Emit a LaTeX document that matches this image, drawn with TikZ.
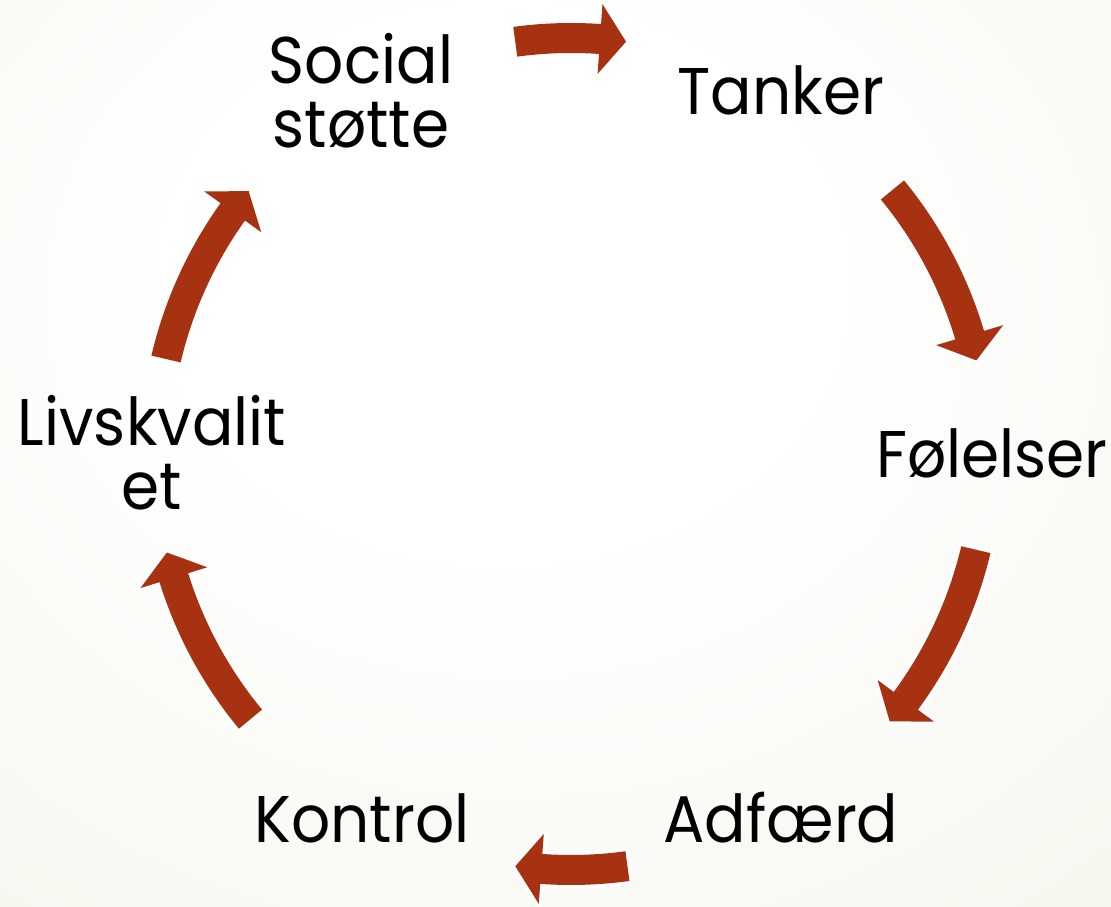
\documentclass[tikz,border=0pt]{standalone}
\usepackage{fontspec}
\setmainfont{Poppins}[FakeStretch=0.93]
\definecolor{arrowred}{RGB}{166,50,18}
\definecolor{bgouter}{RGB}{231,238,215}
\definecolor{bgmid}{RGB}{245,247,238}
\pgfdeclareradialshading{bgshade}{\pgfpoint{-3bp}{12bp}}{color(0bp)=(white); color(14bp)=(white); color(42bp)=(bgmid); color(72bp)=(bgouter)}
\tikzset{
  lbl/.style={font=\fontsize{66}{64}\selectfont, text=black, inner sep=0pt, align=center},
  blockarrow/.style={fill=arrowred, preaction={draw=white, line width=7pt, line join=round}}
}
\newcommand{\cyclearrow}[2]{%
  \pgfmathsetmacro\headbase{#2+3.6}%
  \path[blockarrow] (#1:431) arc[start angle=#1, end angle=\headbase, radius=431]
    -- (\headbase:451) -- (#2:416) -- (\headbase:381) -- (\headbase:401)
    arc[start angle=\headbase, end angle=#1, radius=401] -- cycle;%
}
\begin{document}
\begin{tikzpicture}[x=1pt,y=1pt]
\useasboundingbox (0,0) rectangle (1111,907);
\shade[shading=bgshade] (0,0) rectangle (1111,907);
\node[lbl] (social) at (361,816) {Social\\støtte};
\node[lbl, anchor=base] (tanker) at (781,792) {Tanker};
\node[lbl, anchor=base] (folelser) at (992,429) {Følelser};
\node[lbl, anchor=base] (adfaerd) at (781,64) {Adfærd};
\node[lbl, anchor=base] (kontrol) at (362,64) {Kontrol};
\node[lbl] (livs) at (152,454) {Livskvalit\\et};
\begin{scope}[shift={(571,453)}]
  \cyclearrow{97.7}{82.4}
  \cyclearrow{39.4}{13.0}
  \cyclearrow{-13.3}{-40}
  \cyclearrow{-82.2}{-97.7}
  \cyclearrow{219.6}{193.7}
  \cyclearrow{166.8}{140.8}
\end{scope}
\end{tikzpicture}
\end{document}
